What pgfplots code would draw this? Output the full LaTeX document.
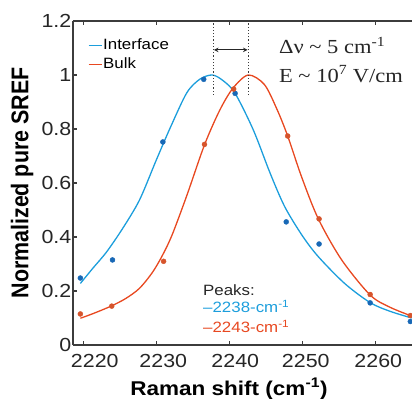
\documentclass[border=0pt]{standalone}
\usepackage{fontspec}
\setmainfont{Liberation Sans}[FakeStretch=1.13]
\newfontfamily\timesfont{Liberation Serif}[FakeStretch=1.13]
\newfontfamily\plainsans{Liberation Sans}
\usepackage{graphicx}
\usepackage{pgfplots}
\pgfplotsset{compat=1.18}
\definecolor{bline}{RGB}{28,158,220}
\definecolor{rline}{RGB}{232,72,32}
\definecolor{bdot}{RGB}{24,104,182}
\definecolor{rdot}{RGB}{214,84,44}
\definecolor{axcol}{RGB}{60,60,60}

\pgfplotstableread{
x y
2219.6 0.228
2221.3 0.284
2223.2 0.345
2225.4 0.432
2227.7 0.537
2230.0 0.685
2232.0 0.810
2234.2 0.935
2236.0 0.985
2237.7 1.000
2239.2 0.978
2240.8 0.932
2243.3 0.796
2245.6 0.636
2247.6 0.512
2250.0 0.405
2252.2 0.327
2255.8 0.228
2259.3 0.157
2262.0 0.125
2265.0 0.100
}\bluecurve

\pgfplotstableread{
x y
2219.6 0.099
2221.5 0.118
2223.8 0.144
2225.8 0.172
2227.7 0.210
2229.5 0.270
2230.9 0.335
2232.2 0.410
2234.2 0.555
2236.6 0.741
2238.7 0.870
2240.5 0.951
2242.6 1.000
2244.8 0.965
2246.5 0.875
2248.0 0.774
2249.9 0.623
2252.2 0.467
2255.4 0.315
2259.3 0.185
2262.0 0.140
2265.0 0.107
}\redcurve

\pgfplotstableread{
x y
2219.6 0.248
2224.0 0.315
2230.9 0.752
2236.5 0.984
2240.8 0.932
2247.8 0.456
2252.3 0.374
2259.3 0.156
2264.8 0.087
}\bluedots

\pgfplotstableread{
x y
2219.6 0.115
2223.9 0.144
2231.0 0.310
2236.6 0.743
2240.6 0.948
2248.0 0.774
2252.3 0.467
2259.3 0.187
2264.8 0.109
}\reddots

\begin{document}
\begin{tikzpicture}
\begin{axis}[
  name=ax,
  scale only axis,
  width=339bp, height=324bp,
  xmin=2218.59, xmax=2265.03,
  ymin=0, ymax=1.2,
  axis y line*=left,
  y axis line style={-},
  axis line style={axcol, line width=1.2bp},
  tick style={axcol, line width=1.1bp},
  major tick length=4bp,
  tick align=inside,
  xtick={2220,2230,2240,2250,2260},
  xticklabels={\hspace*{23bp}2220,\hspace*{14bp}2230,\hspace*{12bp}2240,\hspace*{7bp}2250,\hspace*{6bp}2260},
  ytick={0,0.2,0.4,0.6,0.8,1,1.2},
  yticklabels={0,0.2,0.4,0.6,0.8,1,1.2},
  xtick pos=both,
  /pgf/number format/assume math mode=true,
  /pgf/number format/set thousands separator={},
  ticklabel style={font=\fontsize{19}{22}\selectfont, text=black!85},
  yticklabel style={inner xsep=1.5bp},
  xticklabel style={yshift=-5.5bp},
  xlabel={\bfseries\fontsize{20}{24}\selectfont Raman shift (cm\textsuperscript{-1})},
  every axis x label/.style={at={(axis description cs:0.46,0)}, anchor=base, yshift=-50bp},
  ylabel={\scalebox{1.13}[1]{\rotatebox{90}{\plainsans\bfseries\fontsize{21.5}{25}\selectfont Normalized pure SREF}}},
  every axis y label/.style={at={(axis description cs:-0.1504,0.5)}, anchor=center},
  legend style={draw=none, fill=none, inner sep=0pt, outer sep=0pt,
    at={(axis description cs:0.044,0.948)}, anchor=north west,
    font=\fontsize{15}{18}\selectfont,
    nodes={inner sep=1bp, text height=11bp, text depth=3bp},
    row sep=2.5bp},
  legend cell align=left,
  legend image code/.code={\draw[#1, line width=1.3bp] (0bp,0bp) -- (13bp,0bp);},
]
\addplot[bline, line width=1.3bp, smooth] table[x=x,y=y] {\bluecurve};
\addlegendentry{Interface}
\addplot[rline, line width=1.3bp, smooth] table[x=x,y=y] {\redcurve};
\addlegendentry{Bulk}
\addplot[only marks, mark=*, mark size=2.5bp, bdot, mark options={draw=bdot, fill=bdot}, forget plot] table[x=x,y=y] {\bluedots};
\addplot[only marks, mark=*, mark size=2.5bp, rdot, mark options={draw=rdot, fill=rdot}, forget plot] table[x=x,y=y] {\reddots};

\draw[axcol, line width=1.2bp, dash pattern=on 1.2bp off 2bp] (axis cs:2237.8,0.926) -- (axis cs:2237.8,1.2);
\draw[axcol, line width=1.2bp, dash pattern=on 1.2bp off 2bp] (axis cs:2242.6,0.926) -- (axis cs:2242.6,1.2);
\draw[<->, >=stealth, line width=1bp, black!85] (axis cs:2237.9,1.093) -- (axis cs:2242.5,1.093);

\node[anchor=base west, inner sep=0pt, font=\timesfont\fontsize{20}{24}\selectfont, text=black!85] at (axis cs:2246.8,1.078) {Δν \textasciitilde{} 5 cm\textsuperscript{-1}};
\node[anchor=base west, inner sep=0pt, font=\timesfont\fontsize{20}{24}\selectfont, text=black!85] at (axis cs:2246.8,0.974) {E \textasciitilde{} 10\textsuperscript{7} V/cm};

\node[anchor=base west, inner sep=0pt, font=\fontsize{15}{18}\selectfont, text=black!85] at (axis cs:2236.4,0.185) {Peaks:};
\node[anchor=base west, inner sep=0pt, font=\fontsize{15}{18}\selectfont, text=bline] at (axis cs:2236.4,0.12) {–2238-cm\textsuperscript{-1}};
\node[anchor=base west, inner sep=0pt, font=\fontsize{15}{18}\selectfont, text=rline] at (axis cs:2236.4,0.045) {–2243-cm\textsuperscript{-1}};
\end{axis}
\pgfresetboundingbox
\path ([shift={(-73bp,-54bp)}]ax.south west) rectangle ([shift={(0bp,21bp)}]ax.north east);
\end{tikzpicture}
\end{document}
